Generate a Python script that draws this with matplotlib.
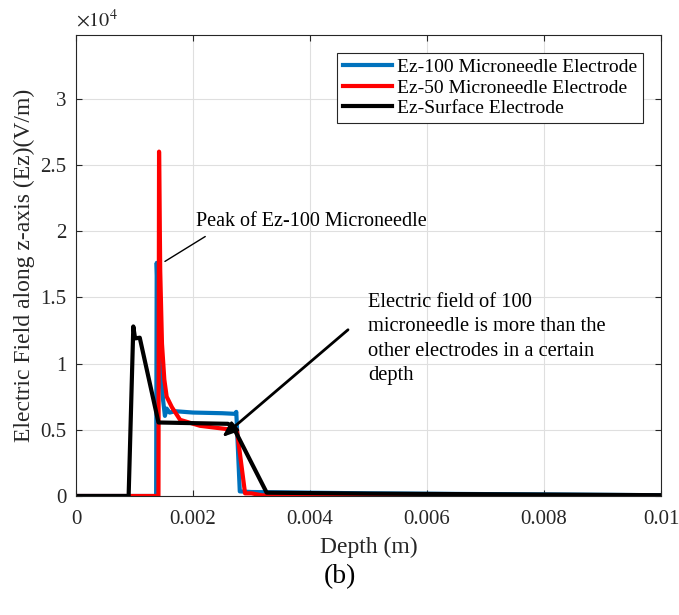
import matplotlib
matplotlib.use("Agg")
import matplotlib.pyplot as plt
from matplotlib.ticker import FuncFormatter, MultipleLocator

plt.rcParams['font.family'] = ['Liberation Serif', 'DejaVu Serif']
plt.rcParams['mathtext.fontset'] = 'stix'

# Depth (m) and Ez (V/m) for each electrode type
depth_100 = [0, 0.00137, 0.00138, 0.00141, 0.00145, 0.00149, 0.00152, 0.00155, 0.00160,
             0.00170, 0.00200, 0.00250, 0.00273, 0.00274, 0.00280, 0.00300, 0.00500, 0.01]
ez_100 = [0, 0, 17600, 13000, 9500, 7200, 6050, 6600, 6300,
          6400, 6300, 6250, 6200, 6350, 350, 300, 200, 60]

depth_50 = [0, 0.00141, 0.00142, 0.00144, 0.00147, 0.00151, 0.00155, 0.00164, 0.00178,
            0.00212, 0.00258, 0.00275, 0.00289, 0.00300, 0.00318, 0.00500, 0.01]
ez_50 = [0, 0, 26000, 17000, 11500, 8800, 7500, 6700, 5750,
         5300, 5050, 5000, 200, 200, 50, 30, 0]

depth_surf = [0, 0.00090, 0.00098, 0.00101, 0.00109, 0.00141, 0.00260, 0.00270,
              0.00326, 0.00500, 0.01]
ez_surf = [0, 0, 12800, 11900, 11950, 5550, 5450, 5100,
           250, 180, 60]

series_labels = ['Ez-100 Microneedle Electrode', 'Ez-50 Microneedle Electrode',
                 'Ez-Surface Electrode']
series_colors = ['#0072BD', '#FF0000', '#000000']

fig = plt.figure(figsize=(6.79, 6.15), dpi=100)
ax = fig.add_axes([0.1119, 0.1935, 0.8616, 0.7495])

ax.plot(depth_100, ez_100, color=series_colors[0], lw=3.0, label=series_labels[0])
ax.plot(depth_50, ez_50, color=series_colors[1], lw=3.0, label=series_labels[1])
ax.plot(depth_surf, ez_surf, color=series_colors[2], lw=3.0, label=series_labels[2])

ax.set_xlim(0, 0.01)
ax.set_ylim(0, 3.48e4)
ax.xaxis.set_major_locator(MultipleLocator(0.002))
ax.yaxis.set_major_locator(MultipleLocator(5000))
ax.xaxis.set_major_formatter(FuncFormatter(lambda v, p: '%g' % round(v, 6)))
ax.yaxis.set_major_formatter(FuncFormatter(lambda v, p: '%g' % (v / 1e4)))

ax.grid(True, color='#DFDFDF', lw=0.8)
ax.set_axisbelow(True)
ax.tick_params(direction='in', top=True, right=True, length=4, width=0.8,
               labelsize=15, colors='#262626')
ax.tick_params(axis='x', pad=10)
ax.tick_params(axis='y', pad=7)
for s in ax.spines.values():
    s.set_color('#262626')
    s.set_linewidth(0.8)

ax.text(0.0, 1.008, r'$\times 10^{4}$', transform=ax.transAxes, fontsize=14.5,
        ha='left', va='bottom', color='#262626')

ax.set_xlabel('Depth (m)', fontsize=17, color='#262626', labelpad=6)
ax.set_ylabel('Electric Field along z-axis (Ez)(V/m)', fontsize=17, color='#262626',
              labelpad=4)

leg = ax.legend(loc='upper right', bbox_to_anchor=(0.97, 0.962), fontsize=14,
                frameon=True, fancybox=False, edgecolor='#262626', framealpha=1,
                handlelength=2.5, handletextpad=0.3, borderpad=0.3, labelspacing=0.15,
                borderaxespad=0)
leg.get_frame().set_linewidth(0.8)

# Annotation for the peak of the 100-needle electrode
ax.annotate('', xy=(0.00148, 17600), xytext=(0.00225, 19700),
            arrowprops=dict(arrowstyle='-', color='black', lw=1.0))
ax.text(0.00205, 20700, 'Peak of Ez-100 Microneedle', fontsize=14.5, ha='left', va='center')

# Annotation for the plateau region
ax.annotate('', xy=(0.00250, 4450), xytext=(0.00465, 12550),
            arrowprops=dict(arrowstyle='-|>,head_length=0.9,head_width=0.35',
                            color='black', lw=2.0, shrinkA=0, shrinkB=0))
ax.text(0.00500, 15350,
        'Electric field of 100\nmicroneedle is more than the\nother electrodes in a certain\ndepth',
        fontsize=14.8, ha='left', va='top', linespacing=1.4)

fig.text(0.5, 0.063, '(b)', fontsize=20, ha='center', va='center')

fig.savefig('out.png', dpi=100)
